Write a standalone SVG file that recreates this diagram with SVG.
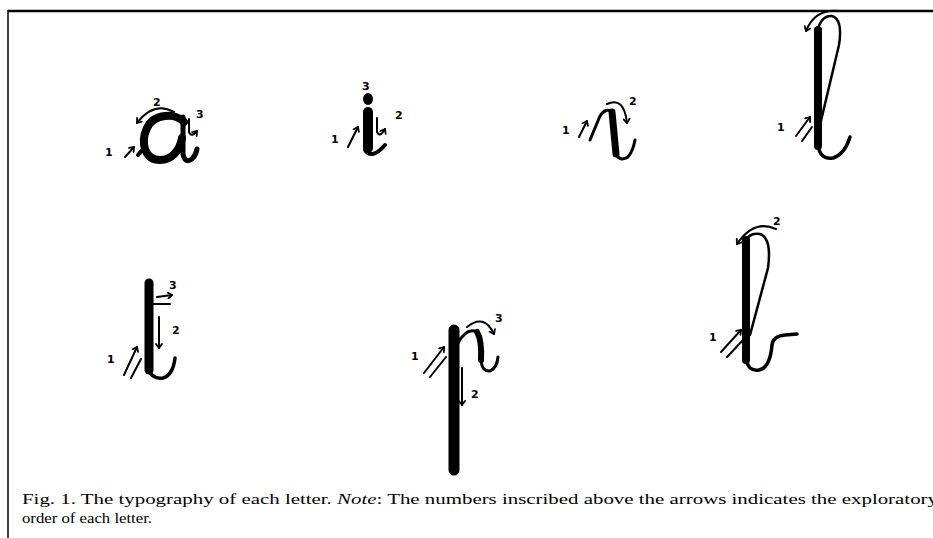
<svg xmlns="http://www.w3.org/2000/svg" width="933" height="538" viewBox="0 0 933 538">
<style>
.thin{fill:none;stroke:#000;stroke-width:2;stroke-linecap:round;stroke-linejoin:round}
.arr{fill:none;stroke:#000;stroke-width:2;stroke-linecap:round;marker-end:url(#ah)}
.thick{fill:none;stroke:#000;stroke-linecap:round;stroke-linejoin:round}
.num{font-family:"DejaVu Sans",sans-serif;font-size:11px;font-weight:bold;fill:#000}
.cap{font-family:"Liberation Serif",serif;font-size:15.5px;fill:#000}
</style>
<defs>
<marker id="ah" markerWidth="8" markerHeight="8" refX="5" refY="4" orient="auto" markerUnits="userSpaceOnUse">
<path d="M1,1 L5,4 L1,7" fill="none" stroke="#000" stroke-width="1.8" stroke-linecap="round" stroke-linejoin="round"/>
</marker>
</defs>
<rect width="933" height="538" fill="#fff"/>
<g id="frame">
<line x1="8" y1="11" x2="933" y2="11" stroke="#000" stroke-width="2.5"/>
<line x1="8" y1="10" x2="8" y2="538" stroke="#000" stroke-width="1.5"/>
</g>
<g id="letter-a">
<path class="thick" stroke-width="8" d="M184,122 C176,113 154,113 147,128 C140,143 145,160 160,160 C172,160 180,150 182,138"/>
<path class="thick" stroke-width="5" d="M183,117 L183,154 Q185,164 192,159 Q196,155 197,149"/>
<path class="thick" stroke-width="4" d="M138,155 Q142,150 146,146"/>
<path class="arr" d="M174,112 Q154,101 137,123"/>
<path class="arr" d="M189,119 L189,132 Q191,138 197,131"/>
<path class="arr" d="M125,157 L134,147"/>
<text class="num" x="153" y="106">2</text>
<text class="num" x="196" y="118">3</text>
<text class="num" x="105" y="156">1</text>
</g>
<g id="letter-i">
<ellipse cx="368" cy="99" rx="5" ry="6" fill="#000"/>
<path class="thick" stroke-width="10" stroke-linecap="butt" d="M368,112 L368,148"/>
<path class="thick" stroke-width="4" d="M365,150 Q372,160 385,145"/>
<path class="arr" d="M377,118 L377,132 Q380,138 385,129"/>
<path class="arr" d="M348,147 L358,127"/>
<text class="num" x="362" y="90">3</text>
<text class="num" x="395" y="119">2</text>
<text class="num" x="331" y="143">1</text>
</g>
<g id="letter-n">
<path class="thick" stroke-width="3" d="M590,140 L600,116 Q606,107 612,112"/>
<path class="thick" stroke-width="7" d="M612,112 L616,154"/>
<path class="thick" stroke-width="3" d="M616,154 Q620,162 628,157 Q633,151 635,140"/>
<path class="arr" d="M607,104 Q624,96 627,123"/>
<path class="arr" d="M579,137 L587,121"/>
<text class="num" x="629" y="105">2</text>
<text class="num" x="562" y="134">1</text>
</g>
<g id="letter-l">
<path class="thick" stroke-width="8" stroke-linecap="butt" d="M818,30 L818,146"/>
<path class="thick" stroke-width="2.5" d="M817,32 Q821,15 832,16 Q843,19 839,45 L820,125"/>
<path class="thick" stroke-width="3.5" d="M818,145 Q820,160 833,158 Q845,154 850,137"/>
<path class="arr" d="M838,11 Q815,9 806,31"/>
<path class="arr" d="M796,136 L810,117"/>
<path class="thin" d="M802,141 L812,127"/>
<text class="num" x="777" y="131">1</text>
</g>
<g id="letter-t">
<path class="thick" stroke-width="9" stroke-linecap="butt" d="M149,283 L149,370"/>
<path class="thick" stroke-width="3.5" d="M148,368 Q152,380 163,378 Q173,375 175,358"/>
<path class="thin" d="M153,304 L170,304"/>
<path class="arr" d="M157,297 L172,295"/>
<path class="arr" d="M159,317 L159,348"/>
<path class="arr" d="M124,375 L137,347"/>
<path class="thin" d="M131,378 L141,359"/>
<text class="num" x="169" y="289">3</text>
<text class="num" x="172" y="334">2</text>
<text class="num" x="107" y="363">1</text>
</g>
<g id="letter-p">
<path class="thick" stroke-width="11" stroke-linecap="butt" d="M454,330 L454,470"/>
<path class="thick" stroke-width="3" d="M458,343 Q467,327 477,332"/>
<path class="thick" stroke-width="6" d="M477,332 Q482,340 481,360"/>
<path class="thick" stroke-width="3" d="M481,360 Q482,372 490,371 Q497,368 498,357"/>
<path class="arr" d="M467,327 Q484,313 494,334"/>
<path class="arr" d="M462,368 L462,405"/>
<path class="arr" d="M424,373 L444,347"/>
<path class="thin" d="M430,377 L446,357"/>
<text class="num" x="495" y="322">3</text>
<text class="num" x="471" y="398">2</text>
<text class="num" x="411" y="360">1</text>
</g>
<g id="letter-b">
<path class="thick" stroke-width="8" stroke-linecap="butt" d="M746,240 L746,360"/>
<path class="thick" stroke-width="2.5" d="M745,242 Q749,232 760,234 Q772,238 768,268 L750,335"/>
<path class="thick" stroke-width="3.5" d="M746,358 Q748,372 759,370 Q770,368 772,345 Q773,336 785,335 L797,334"/>
<path class="arr" d="M776,229 Q754,219 737,244"/>
<path class="arr" d="M721,352 L741,330"/>
<path class="thin" d="M727,357 L743,340"/>
<text class="num" x="773" y="225">2</text>
<text class="num" x="709" y="341">1</text>
</g>
<g id="caption">
<text class="cap" x="22" y="504" textLength="916" lengthAdjust="spacingAndGlyphs">Fig. 1. The typography of each letter. <tspan font-style="italic">Note</tspan>: The numbers inscribed above the arrows indicates the exploratory</text>
<text class="cap" x="22" y="523" textLength="130" lengthAdjust="spacingAndGlyphs">order of each letter.</text>
</g>
</svg>
